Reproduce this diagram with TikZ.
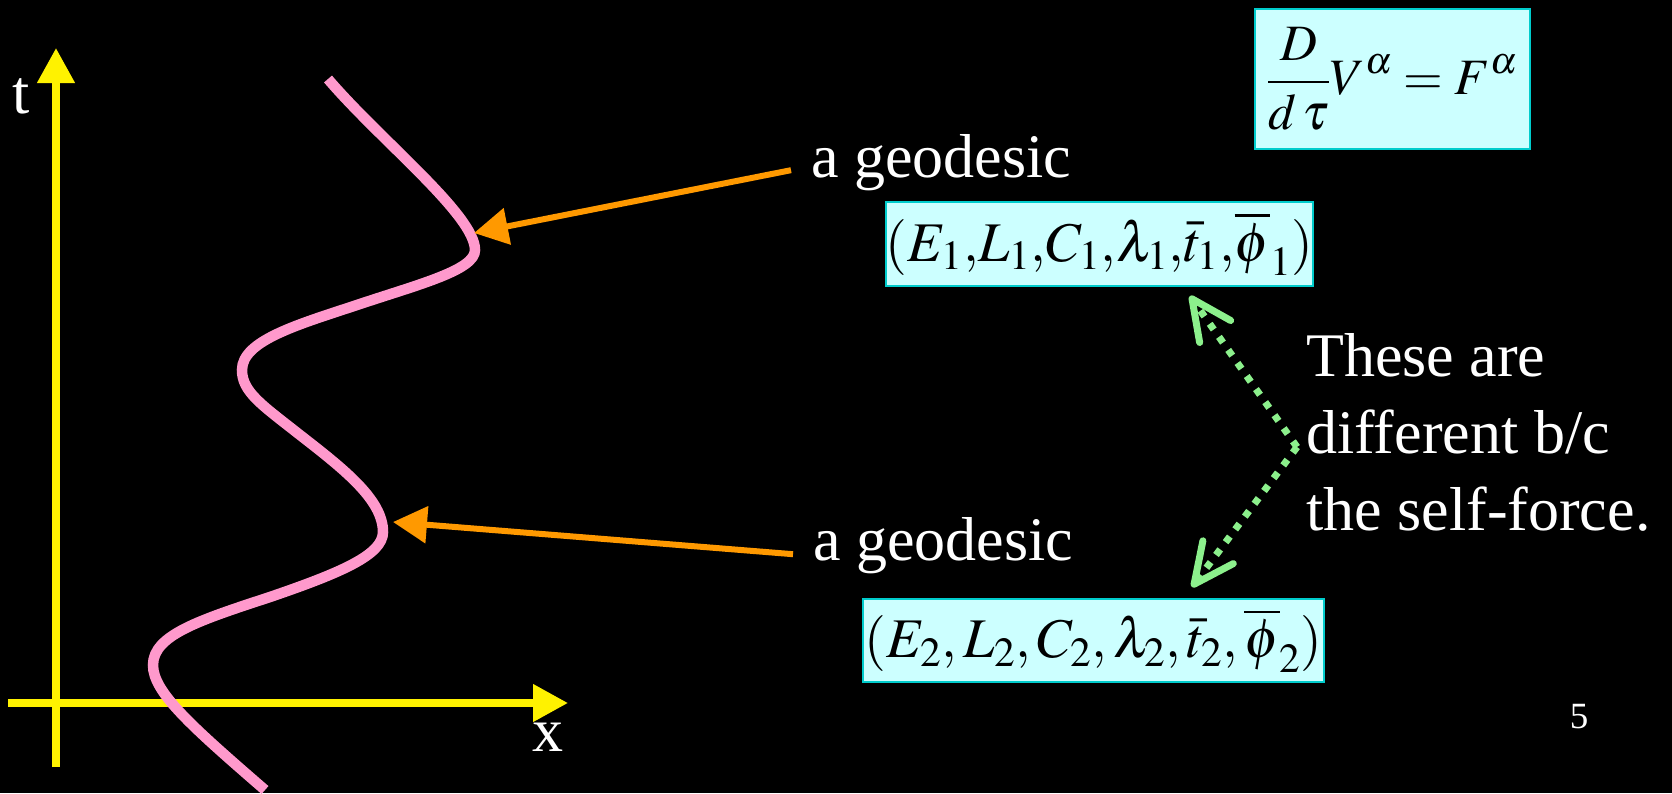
\documentclass[tikz,border=0pt]{standalone}
\usepackage{mathptmx}
\usepackage{fontspec}
\setmainfont{Liberation Serif}
\usepackage{xcolor}
\usetikzlibrary{arrows.meta}

\definecolor{wlpink}{RGB}{255,153,204}
\definecolor{geoorange}{RGB}{255,153,0}
\definecolor{boxfill}{RGB}{204,255,255}
\definecolor{boxedge}{RGB}{0,204,204}
\definecolor{sfgreen}{RGB}{140,240,140}

\begin{document}
\begin{tikzpicture}[
        x=1pt, y=-1pt,
        big/.style={font=\fontsize{62}{77}\selectfont, text=white},
        box/.style={rectangle, draw=boxedge, line width=2.5pt, fill=boxfill,
            align=center, inner sep=0pt, font=\fontsize{56}{68}\selectfont},
        axis/.style={yellow, line width=7.5pt, -{Triangle[length=35pt, width=36pt]}},
        arr/.style={geoorange, line width=6pt, -{Triangle[length=34pt, width=36pt]}},
        sfarr/.style={sfgreen, line width=7pt, dash pattern=on 7pt off 9pt,
            -{Straight Barb[length=40pt, width=38pt, round]}}
    ]
        \fill[black] (0,0) rectangle (1672,793);
        \useasboundingbox (0,0) rectangle (1672,793);

        % axes
        \coordinate (tBot) at (56,767);
        \coordinate (tTop) at (56,48);
        \coordinate (xLeft) at (8,703);
        \coordinate (xRight) at (568,703);
        \draw[axis] (tBot) -- (tTop);
        \draw[axis] (xLeft) -- (xRight);
        \node[big, anchor=base, inner sep=0pt] (tlabel) at (21,113) {t};
        \node[big, anchor=base, inner sep=0pt] (xlabel) at (548,751) {x};

        % world line
        \draw[wlpink, line width=10.5pt] (328,79)
            .. controls (380,140) and (475,215) .. (475,250)
            .. controls (475,270) and (420,284) .. (360,304)
            .. controls (300,324) and (242,340) .. (242,370)
            .. controls (242,392) and (262,405) .. (300,435)
            .. controls (345,470) and (383,500) .. (383,532)
            .. controls (383,555) and (340,573) .. (270,597)
            .. controls (200,620) and (153,635) .. (153,665)
            .. controls (153,692) and (190,725) .. (265,790);
        \coordinate (hitA) at (474,233);
        \coordinate (hitB) at (393,522);

        % geodesics
        \node[big, anchor=base west, inner xsep=20pt, inner ysep=0pt] (geoA) at (791,177) {a geodesic};
        \node[big, anchor=base west, inner xsep=20pt, inner ysep=0pt] (geoB) at (793,560) {a geodesic};
        \draw[arr] ([yshift=-8pt]geoA.west) -- (hitA);
        \draw[arr] ([yshift=-9pt]geoB.west) -- (hitB);

        \node[box, minimum width=275pt, minimum height=140pt, font=\fontsize{51}{61}\selectfont] (eqn) at (1392.5,79)
            {$\displaystyle \frac{D}{d\,\tau}V^{\alpha} = F^{\alpha}$};
        \node[box, minimum width=425pt, minimum height=84pt] (consA) at (1099.5,244)
            {$(E_1{,}L_1{,}C_1{,}\lambda_1{,}\bar{t}_1{,}\overline{\phi}_1)$};
        \node[box, minimum width=461pt, minimum height=83pt] (consB) at (1093.5,640.5)
            {$(E_2, L_2, C_2, \lambda_2, \bar{t}_2, \overline{\phi}_2)$};

        % self-force
        \coordinate (bend) at (1297,447);
        \coordinate (tipA) at (1190,296);
        \coordinate (tipB) at (1192,587);
        \draw[sfarr] (bend) -- (tipA);
        \draw[sfarr] (bend) -- (tipB);
        \node[big, anchor=north west, align=left, inner sep=0pt] (note) at (1306,333)
            {These are\\different b/c\\the self-force.};

        \node[text=white, font=\fontsize{37}{44}\selectfont, anchor=base, inner sep=0pt] (pagenum) at (1579,728) {5};
    \end{tikzpicture}
\end{document}
